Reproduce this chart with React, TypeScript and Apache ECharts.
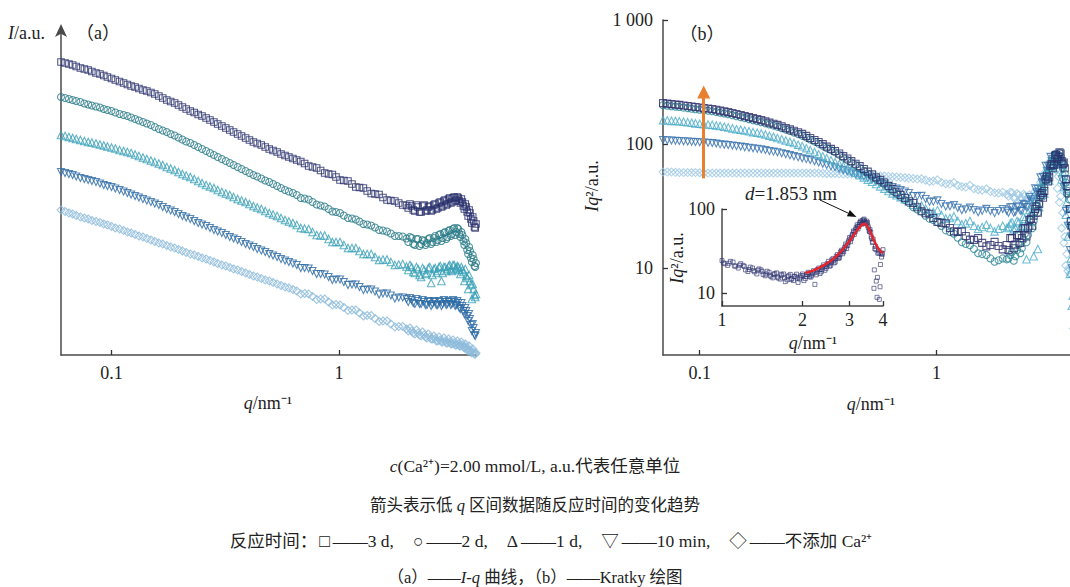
import { useEffect, useRef } from 'react';
import * as echarts from 'echarts';

// ---------- (a) I-q curves: q grid and intensity (arbitrary, offset) ----------
const qA = [
  0.060, 0.065, 0.070, 0.076, 0.082, 0.089, 0.096, 0.104, 0.113, 0.122,
  0.132, 0.143, 0.155, 0.168, 0.182, 0.197, 0.213, 0.231, 0.250, 0.271,
  0.293, 0.318, 0.344, 0.373, 0.404, 0.437, 0.474, 0.513, 0.556, 0.602,
  0.652, 0.706, 0.765, 0.830, 0.900, 0.970, 1.05, 1.14, 1.23, 1.33,
  1.44, 1.56, 1.69, 1.83, 1.98,
  2.05, 2.12, 2.19, 2.26, 2.33, 2.40, 2.47, 2.54, 2.61, 2.68,
  2.75, 2.82, 2.89, 2.96, 3.03, 3.10, 3.17, 3.24, 3.31, 3.38,
  3.45, 3.52, 3.59, 3.66, 3.73, 3.80, 3.87, 3.94, 4.00,
];
// in-between q samples (same runs, interleaved)
const qAMid = [
  0.0625, 0.0675, 0.073, 0.079, 0.0855, 0.0925, 0.100, 0.1085, 0.1175, 0.127,
  0.1375, 0.149, 0.1615, 0.175, 0.1895, 0.205, 0.222, 0.2405, 0.2605, 0.282,
  0.3055, 0.331, 0.3585, 0.3885, 0.4205, 0.4555, 0.4935, 0.5345, 0.579, 0.627,
  0.679, 0.7355, 0.7975, 0.865, 0.935, 1.01, 1.095, 1.185, 1.28, 1.385,
  1.50, 1.625, 1.76, 1.905,
  2.015, 2.085, 2.155, 2.225, 2.295, 2.365, 2.435, 2.505, 2.575, 2.645,
  2.715, 2.785, 2.855, 2.925, 2.995, 3.065, 3.135, 3.205, 3.275, 3.345,
  3.415, 3.485, 3.555, 3.625, 3.695, 3.765, 3.835, 3.905, 3.97,
];
const a3d = [
  293, 291, 288.5, 286, 283.5, 281, 278, 275, 272, 269,
  266.5, 264, 261, 257, 253.5, 250, 246, 242.5, 239, 235,
  231, 227, 223, 219, 215, 211.5, 208, 204.5, 201, 198,
  195, 191.5, 188, 184.5, 181, 178, 174.5, 171, 167.5, 164,
  161, 157.5, 154.5, 152, 149.5,
  151, 145, 150, 143, 149, 144, 148, 144, 150, 146,
  152, 148, 154, 150, 156, 152, 157, 154, 158, 154,
  156, 149, 151, 143, 145, 136, 138, 128, 131,
];
const a3dMid = [
  292, 290, 287, 285, 282, 279.5, 276.5, 273.5, 270.5, 268,
  265, 262.5, 259, 255, 252, 248, 244, 240.5, 237, 233,
  229, 225, 221, 217, 213, 210, 206, 203, 199.5, 196.5,
  193.5, 189, 187, 182, 180.5, 175, 174, 168, 167, 161.5,
  160.5, 155, 154, 150,
  147, 149, 144, 148, 143, 150, 145, 149, 145, 151,
  147, 153, 149, 155, 151, 157, 153, 158, 155, 157,
  152, 153, 146, 148, 139, 142, 132, 134, 127,
];
const a2d = [
  258, 256, 254, 251.5, 249.5, 247.5, 245, 242.5, 240, 237.5,
  234.5, 231.5, 228, 224.5, 221, 217.5, 213.5, 210, 206, 202,
  198, 194, 190, 186, 182, 178.5, 174.5, 171, 167, 163.5,
  160, 156.5, 153, 149.5, 146, 143, 139.5, 136.5, 133.5, 130.5,
  127.5, 124.5, 121.5, 119, 116.5,
  118, 111, 116, 109, 115, 110, 116, 111, 117, 113,
  120, 114, 122, 116, 124, 119, 126, 120, 127, 121,
  123, 114, 116, 105, 108, 97, 100, 89, 92,
];
const a2dMid = [
  257, 255, 253, 250.5, 248.5, 246, 244, 241, 239, 236,
  233, 230, 226, 223, 219.5, 215.5, 212, 208, 204, 200,
  196, 192, 188, 184, 180, 176.5, 173, 169, 165, 162,
  157, 155.5, 150.5, 148.5, 143.5, 142, 137, 135.5, 131, 129.5,
  125, 123.5, 119, 118.5,
  113, 117, 110, 116, 111, 114, 112, 117, 113, 119,
  115, 121, 117, 123, 118, 125, 121, 127, 123, 126,
  118, 120, 110, 112, 101, 104, 93, 96, 88,
];
const a1d = [
  220, 218, 216, 214, 212.5, 210.5, 208.5, 206.5, 204, 202,
  199, 196, 193, 190, 186.5, 183, 179.5, 176, 172, 168.5,
  165, 161.5, 158, 154.5, 151, 147.5, 144, 140.5, 137, 133.5,
  130, 126.5, 123, 119.5, 116, 113, 110, 107, 104, 101,
  98, 95.5, 93, 90.5, 88.5,
  90, 83, 88, 80, 87, 81, 87, 72, 86, 82,
  88, 74, 88, 84, 89, 85, 90, 86, 89, 85,
  88, 83, 86, 77, 80, 70, 71, 60, 61,
];
const a1dMid = [
  219, 217, 215, 213, 211.5, 209.5, 207.5, 205, 203, 200.5,
  197.5, 194.5, 191.5, 188, 185, 181, 178, 174, 170, 167,
  163, 160, 156, 153, 149, 146, 142, 139, 135, 132,
  127, 126, 120, 119.5, 113, 113, 107, 107, 101, 101,
  95, 95.5, 90, 91,
  85, 88, 82, 86, 78, 85, 82, 88, 80, 87,
  84, 89, 82, 88, 86, 90, 84, 90, 87, 88,
  81, 85, 74, 79, 66, 74, 56, 66, 58,
];
const a10min = [
  183, 181, 178.5, 176, 174, 171.5, 169, 166.5, 163.5, 160.5,
  157.5, 154.5, 151.5, 148, 144.5, 141, 137.5, 134, 130.5, 127,
  123.5, 120, 116.5, 113, 109.5, 106, 103, 99.5, 96, 93,
  90, 87, 84, 81, 78, 75.5, 73, 70.5, 68, 65.5,
  63.5, 61.5, 59.5, 57.5, 56,
  57, 52, 56, 51, 55, 50, 54, 49, 54, 50,
  54, 49, 55, 50, 54, 50, 55, 49, 54, 47,
  52, 44, 47, 39, 41, 30, 31, 20, 22,
];
const a10minMid = [
  182, 180, 177, 175, 173, 170, 168, 165, 162, 159,
  156, 153, 150, 146, 143, 139, 136, 132, 129, 125,
  122, 118, 115, 111, 108, 104.5, 101, 98, 94.5, 91.5,
  87, 86.5, 81, 80.5, 75, 75.5, 70, 70.5, 65, 65.5,
  60.5, 61.5, 56.5, 57.5,
  53, 55, 51, 54, 51, 53, 50, 53, 51, 53,
  50, 53, 51, 53, 51, 53, 51, 53, 50, 52,
  46, 49, 41, 44, 34, 36, 24, 27, 19,
];
const aNoCa = [
  145, 142, 139.5, 137, 134.5, 132.5, 130, 127, 124.5, 122,
  119, 116.5, 113.5, 111, 108, 105.5, 102.5, 100, 97, 94.5,
  91.5, 89, 86, 83.5, 80.5, 78, 75, 72.5, 69.5, 67,
  64, 61.5, 58.5, 56, 53, 50.5, 47.5, 45, 42, 39.5,
  36.5, 34, 31, 28.5, 26,
  27, 22, 25, 20, 23, 18, 21, 16, 19, 14,
  18, 13, 17, 12, 16, 11, 15, 10, 14, 9,
  13, 8, 11, 6, 9, 3, 6, 1, 2,
];
const aNoCaMid = [
  143.5, 141, 138, 136, 133.5, 131, 128.5, 126, 123, 120.5,
  118, 115, 112, 109.5, 107, 104, 101, 98.5, 96, 93,
  90, 87.5, 85, 82, 79, 76.5, 74, 71, 68, 65.5,
  61, 61, 55.5, 56, 50, 50, 44.5, 45, 39, 39.5,
  33.5, 34, 28, 28.5,
  24, 24, 21, 22, 19, 20, 17, 18, 16, 16.5,
  14, 15, 13, 14, 12, 13, 11, 12, 10, 11,
  9, 10, 7, 8, 4, 5, 2, 3, 1,
];

// ---------- (b) Kratky plot: q grid and Iq^2 ----------
const qB = [
  0.070, 0.076, 0.082, 0.089, 0.096, 0.104, 0.113, 0.122, 0.132, 0.143,
  0.155, 0.168, 0.182, 0.197, 0.213, 0.231, 0.250, 0.271, 0.293, 0.318,
  0.344, 0.373, 0.404, 0.437, 0.474, 0.513, 0.556, 0.602, 0.652, 0.706,
  0.765, 0.830, 0.900, 0.970, 1.05, 1.14, 1.23, 1.33, 1.44, 1.56,
  1.69, 1.83, 1.98,
  2.05, 2.12, 2.19, 2.26, 2.33, 2.40, 2.47, 2.54, 2.61, 2.68,
  2.75, 2.82, 2.89, 2.96, 3.03, 3.10, 3.17, 3.24, 3.31, 3.38,
  3.45, 3.52, 3.59, 3.66, 3.73, 3.80, 3.87, 3.94, 4.00,
];
const qBMid = [
  0.073, 0.079, 0.0855, 0.0925, 0.100, 0.1085, 0.1175, 0.127, 0.1375, 0.149,
  0.1615, 0.175, 0.1895, 0.205, 0.222, 0.2405, 0.2605, 0.282, 0.3055, 0.331,
  0.3585, 0.3885, 0.4205, 0.4555, 0.4935, 0.5345, 0.579, 0.627, 0.679, 0.7355,
  0.7975, 0.865, 0.935, 1.01, 1.095, 1.185, 1.28, 1.385, 1.50, 1.625,
  1.76, 1.905,
  2.015, 2.085, 2.155, 2.225, 2.295, 2.365, 2.435, 2.505, 2.575, 2.645,
  2.715, 2.785, 2.855, 2.925, 2.995, 3.065, 3.135, 3.205, 3.275, 3.345,
  3.415, 3.485, 3.555, 3.625, 3.695, 3.765, 3.835, 3.905, 3.97,
];
const b3d = [
  214, 210, 207, 203, 199, 195, 192, 186, 181, 175,
  168, 162, 156, 149, 143, 135, 128, 121, 112, 104,
  95.5, 88, 80, 73, 66.5, 60, 54, 49, 43.5, 39,
  34.7, 31, 27.7, 25.4, 23.2, 21.1, 19.6, 18.2, 16.9, 16,
  15.4, 15.1, 15.4,
  17.5, 14.5, 18.5, 16, 21, 18, 24.5, 22, 30, 28,
  39, 37, 52, 50, 67, 64, 81, 76, 86, 73,
  71, 52, 46, 30, 22, 14, 9, 7, 6,
];
const b3dMid = [
  212, 208.5, 205, 201, 197, 193.5, 189, 183.5, 178, 171.5,
  165, 159, 152.5, 146, 139, 131.5, 124.5, 116.5, 108, 100,
  91.5, 84, 76.5, 69.5, 63, 57, 51.5, 46, 41, 36.8,
  33.5, 28.8, 27.5, 23.6, 23, 19.8, 19.8, 17, 17.5, 15,
  16.3, 14.2,
  14, 17.5, 15.5, 18.5, 17.5, 21, 21, 25, 26.5, 31.5,
  33, 40.5, 42, 55, 54, 69, 68, 82, 79, 84,
  69, 64, 46, 40, 24, 19, 10, 8.5, 6,
];
const b2d = [
  206, 202, 199, 195, 191, 188, 184, 179, 174, 168,
  162, 156, 150, 144, 138, 131, 124, 117, 109, 101,
  93, 86, 78, 71, 64.5, 58, 52.5, 47.5, 42, 37.5,
  33.5, 29.8, 26.5, 24.5, 21.9, 19.6, 17.6, 15.7, 14.3, 13,
  12, 11.6, 11.8,
  12.8, 11.5, 14, 13.2, 17, 16.2, 21.5, 21, 28.5, 28,
  38, 38, 51, 52, 67, 66, 82, 78, 85, 72,
  68, 49, 42, 30, 22, 15, 10, 8, 6,
];
const b2dMid = [
  204, 200.5, 197, 193, 189.5, 186, 181.5, 176.5, 171, 165,
  159, 153, 147, 141, 134.5, 127.5, 120.5, 113, 105, 97,
  89.5, 82, 74.5, 68, 61, 55, 50, 44.5, 39.8, 35.5,
  31, 28.6, 25, 23.6, 20.2, 19, 16.2, 15.3, 13.2, 12.8,
  11.3, 12,
  12, 13.5, 12.5, 15.5, 14.5, 19, 18.5, 24.5, 24, 32,
  33, 44, 45, 58, 59, 73, 72, 84, 80, 80,
  64, 58, 40, 36, 22, 18, 10, 9, 6,
];
const b1d = [
  156, 154, 153, 150, 147, 145, 143, 140, 136, 132,
  129, 125, 122, 117, 112, 107, 102, 96, 89.6, 83,
  77, 71.5, 66.5, 61.3, 56.3, 51.8, 47.7, 43.8, 40.1, 37.3,
  34.7, 32.3, 30.3, 28.4, 26.8, 25.4, 24, 23, 22, 21.5,
  21.1, 20.8, 21.1,
  23, 20.5, 24, 21.5, 26, 11.8, 29.5, 28, 36, 14.3,
  46, 45, 59, 57, 72, 69, 79, 70, 71, 52,
  45, 27, 18, 9, 5, 3.5, 4.5, 3, 4,
];
const b1dMid = [
  155, 153.5, 151.5, 148.5, 146, 144, 141.5, 138, 134, 130.5,
  127, 123.5, 119.5, 114.5, 109.5, 104.5, 99, 92.8, 86.3, 80,
  74.2, 69, 63.9, 58.8, 54, 49.7, 45.7, 41.9, 38.7, 36,
  32.5, 32, 28.4, 29.4, 25.2, 26.2, 22.6, 24, 20.8, 22.4,
  19.8, 22,
  21.5, 23.5, 21, 23.5, 22, 25, 24, 28, 12.5, 33,
  31, 41, 40, 53, 51, 66, 64, 77, 74, 75,
  60, 50, 34, 24, 12, 6, 4, 3.5, 3.5,
];
const b10min = [
  108, 107, 106, 105, 104, 103, 102, 99.5, 98.4, 96.5,
  94.5, 92.7, 91, 88, 86, 83, 80, 77, 74.4, 71,
  67.8, 65, 61.8, 59, 56.3, 53.2, 50.4, 47.7, 45.1, 42.6,
  40.4, 38.1, 36.1, 34.4, 32.9, 31.6, 30.7, 29.9, 29.4, 29.1,
  28.9, 28.9, 29.1,
  31, 28, 31.5, 29, 33, 31, 37.5, 36, 44, 43.5,
  54, 54.5, 67, 67, 79, 76, 80, 70, 68, 52,
  45, 29, 22, 14, 10, 8, 7, 6, 5,
];
const b10minMid = [
  107.5, 106.5, 105.5, 104.5, 103.5, 102.5, 101, 99, 97.5, 95.5,
  93.6, 91.8, 89.5, 87, 84.5, 81.5, 78.5, 75.7, 72.7, 69.4,
  66.4, 63.4, 60.4, 57.6, 54.7, 51.8, 49, 46.4, 43.8, 41.5,
  38.2, 38.3, 34.3, 35.2, 31.4, 32.3, 29.3, 30.8, 28.2, 30.1,
  27.8, 30,
  28, 31, 28.5, 31, 29, 32.5, 31, 35, 34, 41,
  40, 49, 49, 61, 60, 73, 72, 81, 76, 72,
  62, 52, 38, 30, 18, 13, 9, 7.5, 6,
];
const bNoCa = [
  59.6, 59.6, 59, 59, 59, 58.5, 58.5, 58.5, 58.5, 58.5,
  58.5, 58.5, 58.5, 58.5, 58.5, 58.5, 58.5, 58.5, 58.5, 58.5,
  58, 58, 57.4, 57.4, 56.8, 56.3, 55.7, 55.2, 54.6, 54,
  53.3, 52.3, 51.3, 50.4, 49.1, 47.7, 46.4, 45.1, 43.8, 42.6,
  41.5, 40.4, 39.3,
  41, 37, 40, 36, 39.5, 36, 39, 36.5, 41.5, 40.5,
  49, 48.5, 60, 61, 73, 68, 67, 44, 34, 21,
  16, 10.5, 9.5, 9, 10, 11, 12, 14, 15,
];
const bNoCaMid = [
  59.6, 59.3, 59, 59, 58.8, 58.5, 58.5, 58.5, 58.5, 58.5,
  58.5, 58.5, 58.5, 58.5, 58.5, 58.5, 58.5, 58.5, 58.5, 58.2,
  58, 57.7, 57.4, 57.1, 56.5, 56, 55.4, 54.9, 54.3, 53.6,
  52.8, 52.5, 50, 51.5, 48, 49, 45.5, 46.5, 43, 43.5,
  40.5, 41,
  38, 40.5, 37, 39, 36.5, 38.5, 36, 38, 37.5, 40,
  43, 45, 53, 55, 65, 68, 71, 62, 55, 38,
  28, 18, 13, 10, 9, 10, 11, 13, 14.5,
];

// ---------- inset: 3 d sample, q = 1–4 nm^-1 ----------
const qInsetA = [
  1.00, 1.05, 1.10, 1.15, 1.20, 1.25, 1.30, 1.35, 1.40, 1.45,
  1.50, 1.55, 1.60, 1.65, 1.70, 1.75, 1.80, 1.85, 1.90, 1.95,
  2.00, 2.05, 2.10, 2.15, 2.20, 2.25, 2.30, 2.35, 2.40, 2.45,
  2.50, 2.55, 2.60, 2.65, 2.70, 2.75, 2.80, 2.85, 2.90, 2.95,
  3.00, 3.05, 3.10, 3.15, 3.20, 3.25, 3.30, 3.35, 3.40, 3.45,
  3.50, 3.55, 3.60, 3.65, 3.70, 3.75, 3.80, 3.85, 3.90, 3.95,
  4.00,
];
const insetA = [
  24.5, 21.5, 23.5, 20, 21.5, 18.2, 20, 17, 19, 16.2,
  17.8, 15.3, 17.5, 14.8, 17, 14.5, 16.8, 14.2, 16.9, 14.8,
  17, 15, 17.8, 15.6, 18.6, 16.6, 20, 18, 21.8, 19.8,
  24, 21.5, 25.8, 23.5, 28.8, 26.5, 32.5, 31, 38.5, 37,
  46, 45, 55, 54, 65, 62, 72, 68, 76, 67,
  69, 55, 53, 40, 11.5, 36, 9, 32, 12, 27,
  33,
];
const qInsetB = [
  1.025, 1.075, 1.125, 1.175, 1.225, 1.275, 1.325, 1.375, 1.425, 1.475,
  1.525, 1.575, 1.625, 1.675, 1.725, 1.775, 1.825, 1.875, 1.925, 1.975,
  2.025, 2.075, 2.125, 2.175, 2.225, 2.275, 2.325, 2.375, 2.425, 2.475,
  2.525, 2.575, 2.625, 2.675, 2.725, 2.775, 2.825, 2.875, 2.925, 2.975,
  3.025, 3.075, 3.125, 3.175, 3.225, 3.275, 3.325, 3.375, 3.425, 3.475,
  3.525, 3.575, 3.625, 3.675, 3.725, 3.775, 3.825, 3.875, 3.925, 3.975,
];
const insetB = [
  22.5, 24, 21, 22.5, 19, 20.5, 18, 19.5, 16.8, 18.3,
  15.8, 17.2, 15.2, 16.5, 13.8, 16.2, 15, 16, 13.5, 16.2,
  14.2, 16.8, 15.8, 17.5, 12.8, 19.2, 17.2, 20.5, 18.8, 22.5,
  21, 25, 23, 27.5, 26, 31, 29.5, 35, 34, 42,
  41, 50, 50, 60, 58, 69, 66, 74, 70, 72,
  60, 57, 45, 44, 34, 14, 30, 8.5, 30, 29,
];
const qInsetC = [
  1.0125, 1.0625, 1.1125, 1.1625, 1.2125, 1.2625, 1.3125, 1.3625, 1.4125, 1.4625,
  1.5125, 1.5625, 1.6125, 1.6625, 1.7125, 1.7625, 1.8125, 1.8625, 1.9125, 1.9625,
  2.0125, 2.0625, 2.1125, 2.1625, 2.2125, 2.2625, 2.3125, 2.3625, 2.4125, 2.4625,
  2.5125, 2.5625, 2.6125, 2.6625, 2.7125, 2.7625, 2.8125, 2.8625, 2.9125, 2.9625,
  3.0125, 3.0625, 3.1125, 3.1625, 3.2125, 3.2625, 3.3125, 3.3625, 3.4125, 3.4625,
  3.5125, 3.5625, 3.6125, 3.6625, 3.7125, 3.7625, 3.8125, 3.8625, 3.9125, 3.9625,
];
const insetC = [
  23, 22.8, 21.2, 21.6, 20.8, 19.2, 18.6, 18.9, 18.2, 17,
  16.4, 16.8, 15.6, 16.9, 15.2, 15.8, 14.6, 15.9, 15.3, 15.6,
  16.3, 15.9, 16.8, 16.4, 17.5, 17.9, 19, 19.2, 20.6, 21,
  22.4, 23.4, 24.5, 25.8, 27.2, 29, 31.5, 33.5, 36.5, 40,
  44, 48, 53, 57.5, 62, 66, 70, 73.5, 71, 68,
  63, 54, 47, 41, 19, 33, 15.5, 30, 22, 30,
];
const qFit = [2.05, 2.2, 2.4, 2.6, 2.8, 3.0, 3.15, 3.3, 3.4, 3.5, 3.6, 3.7, 3.8, 3.9, 4.0];
const fitVals = [17.5, 18.8, 21.5, 25.5, 32, 42, 52, 63, 67, 62, 52, 43, 36, 32, 30];

// arrow in (b): low-q trend with reaction time
const trendQ = 0.104;
const trendFrom = 53;
const trendTo = 263;

const ticksA = [0.1, 1];
const ticksBy = [10, 100, 1000];
const ticksInsetX = [1, 2, 3, 4];
const ticksInsetY = [10, 100];

const FONT = "'Liberation Serif', 'Times New Roman', 'Noto Sans CJK SC', serif";
const INK = '#222';

const DOWN_TRI = 'path://M0,0L10,0L5,9Z';

const pairs = (q: number[], v: number[]) => q.map((x, i) => [x, v[i]]);

const fmt = (v: number) => {
  if (Math.abs(v - 1000) < 1e-6) return '1 000';
  return String(Number(v.toPrecision(3)));
};

const lineStyle = { color: '#4a4a4a', width: 1.5 };

function logAxis(gridIndex: number, min: number, max: number, ticks: number[], margin: number) {
  return {
    type: 'log', gridIndex, min, max, logBase: 10,
    axisLine: { show: true, onZero: false, lineStyle },
    axisTick: { show: true, inside: true, length: 5, customValues: ticks, lineStyle: { color: '#333', width: 1.3 } },
    axisLabel: { show: true, customValues: ticks, formatter: fmt, margin, fontSize: 18, color: INK, fontFamily: FONT },
    splitLine: { show: false }, minorTick: { show: false }, minorSplitLine: { show: false },
  };
}

function marks(idx: number, q: number[], v: number[], q2: number[], v2: number[], symbol: string, size: number, color: string) {
  return {
    type: 'scatter', xAxisIndex: idx, yAxisIndex: idx,
    data: [...pairs(q, v), ...pairs(q2, v2)],
    symbol, symbolSize: size, silent: true,
    itemStyle: { color: 'rgba(0,0,0,0)', borderColor: color, borderWidth: 1.1 },
  };
}

const rich = (size: number) => ({
  i: { fontStyle: 'italic', fontFamily: FONT, fontSize: size, fill: INK },
  n: { fontFamily: FONT, fontSize: size, fill: INK },
  f: { fontFamily: FONT, fontSize: size, fill: INK, padding: [0, 3, 0, 2] },
  s: { fontFamily: FONT, fontSize: size, fill: INK, padding: [0, 3, 0, 19] },
});

function label(x: number, y: number, text: string, size = 18, rotation = 0, align = 'center') {
  return {
    type: 'text', x, y, rotation, silent: true,
    style: { text, rich: rich(size), fill: INK, fontFamily: FONT, fontSize: size, align, verticalAlign: 'middle' },
  };
}

// black pointer from "d=1.853 nm" to the inset peak
const ptrFrom = [820, 200];
const ptrTip = [856.5, 217];
const ptrHead = (() => {
  const dx = ptrTip[0] - ptrFrom[0];
  const dy = ptrTip[1] - ptrFrom[1];
  const L = Math.hypot(dx, dy);
  const ux = dx / L, uy = dy / L;
  const bx = ptrTip[0] - 9 * ux, by = ptrTip[1] - 9 * uy;
  return { base: [bx, by], pts: [[ptrTip[0], ptrTip[1]], [bx - 3.5 * uy, by + 3.5 * ux], [bx + 3.5 * uy, by - 3.5 * ux]] };
})();

const C = {
  a3d: '#28306c', a2d: '#2b7c88', a1d: '#3aa0b6', a10: '#2d6ba5', a0: '#8dbcdb',
  b3d: '#2b2e6c', b2d: '#2f8795', b1d: '#4cadc9', b10: '#3672ae', b0: '#9cc8e3',
};

const option: any = {
  animation: false,
  textStyle: { fontFamily: FONT },
  grid: [
    { left: 61, top: 29, width: 415, height: 326 },
    { left: 663, top: 20, width: 416, height: 335 },
    { left: 722, top: 209, width: 161, height: 97 },
  ],
  xAxis: [
    logAxis(0, 0.06, 4, ticksA, 9),
    logAxis(1, 0.07, 4, ticksA, 9),
    logAxis(2, 1, 4, ticksInsetX, 5),
  ],
  yAxis: [
    {
      type: 'value', gridIndex: 0, min: 0, max: 326,
      axisLine: {
        show: true, onZero: false, symbol: ['none', 'arrow'], symbolSize: [9, 13], symbolOffset: [0, 5], lineStyle,
      },
      axisTick: { show: false }, axisLabel: { show: false }, splitLine: { show: false },
    },
    logAxis(1, 2, 1000, ticksBy, 10),
    logAxis(2, 7.1, 100, ticksInsetY, 7),
  ],
  series: [
    marks(0, qA, aNoCa, qAMid, aNoCaMid, 'diamond', 8, C.a0),
    marks(0, qA, a10min, qAMid, a10minMid, DOWN_TRI, 7, C.a10),
    marks(0, qA, a1d, qAMid, a1dMid, 'triangle', 7.5, C.a1d),
    marks(0, qA, a2d, qAMid, a2dMid, 'circle', 7, C.a2d),
    marks(0, qA, a3d, qAMid, a3dMid, 'rect', 6.5, C.a3d),

    {
      ...marks(1, qB, bNoCa, qBMid, bNoCaMid, 'diamond', 8, C.b0),
      markLine: {
        silent: true, animation: false, z: 10,
        symbol: ['none', 'triangle'], symbolSize: 13,
        lineStyle: { color: '#e8802f', width: 3, type: 'solid' },
        itemStyle: { color: '#e8802f' },
        label: { show: false },
        data: [[{ coord: [trendQ, trendFrom] }, { coord: [trendQ, trendTo] }]],
      },
    },
    marks(1, qB, b10min, qBMid, b10minMid, DOWN_TRI, 7, C.b10),
    marks(1, qB, b1d, qBMid, b1dMid, 'triangle', 7.5, C.b1d),
    marks(1, qB, b2d, qBMid, b2dMid, 'circle', 7, C.b2d),
    marks(1, qB, b3d, qBMid, b3dMid, 'rect', 7, C.b3d),

    {
      type: 'scatter', xAxisIndex: 2, yAxisIndex: 2, silent: true,
      data: [...pairs(qInsetA, insetA), ...pairs(qInsetB, insetB), ...pairs(qInsetC, insetC)],
      symbol: 'rect', symbolSize: 4,
      itemStyle: { color: 'rgba(0,0,0,0)', borderColor: '#2f3470', borderWidth: 0.8 },
    },
    {
      type: 'line', xAxisIndex: 2, yAxisIndex: 2, silent: true,
      data: pairs(qFit, fitVals), smooth: 0.4, symbol: 'none', z: 5,
      lineStyle: { color: '#e8242a', width: 2.5 },
    },
  ],
  graphic: [
    label(8, 33, '{i|I}{n|/a.u.}', 18, 0, 'left'),
    label(98, 33, '{n|（a）}'),
    label(702, 34, '{n|（b）}'),
    label(268, 403, '{i|q}{n|/nm⁻¹}'),
    label(871, 404, '{i|q}{n|/nm⁻¹}'),
    label(592, 186, '{i|Iq}{n|²/a.u.}', 18, Math.PI / 2),
    label(677, 258, '{i|Iq}{n|²/a.u.}', 18, Math.PI / 2),
    label(813, 343, '{i|q}{n|/nm⁻¹}'),
    label(791, 193, '{i|d}{n|=1.853 nm}', 19),
    {
      type: 'line', silent: true,
      shape: { x1: ptrFrom[0], y1: ptrFrom[1], x2: ptrHead.base[0], y2: ptrHead.base[1] },
      style: { stroke: '#111', lineWidth: 1 },
    },
    { type: 'polygon', silent: true, shape: { points: ptrHead.pts }, style: { fill: '#111' } },

    label(535, 466, '{i|c}{n|(Ca²⁺)=2.00 mmol/L, a.u.代表任意单位}', 17.5),
    label(535, 505, '{n|箭头表示低 }{i|q}{n| 区间数据随反应时间的变化趋势}', 16.5),
    label(551, 541,
      '{n|反应时间：}{f|□}{n|——3 d,}{s|○}{n|——2 d,}{s|Δ}{n|——1 d,}{s|▽}{n|——10 min,}{s|◇}{n|——不添加 Ca²⁺}',
      17.5),
    label(535, 577, '{n|（a）——}{i|I-q}{n| 曲线，（b）——Kratky 绘图}', 16.5),
  ],
};

export default function App() {
  const ref = useRef<HTMLDivElement>(null);
  useEffect(() => {
    if (!ref.current) return;
    const chart = echarts.init(ref.current, null, { renderer: 'svg' });
    chart.setOption(option);
    return () => chart.dispose();
  }, []);
  return (
    <div
      ref={ref}
      style={{ position: 'fixed', left: 0, top: 0, width: 1085, height: 587, background: '#fff' }}
    />
  );
}
